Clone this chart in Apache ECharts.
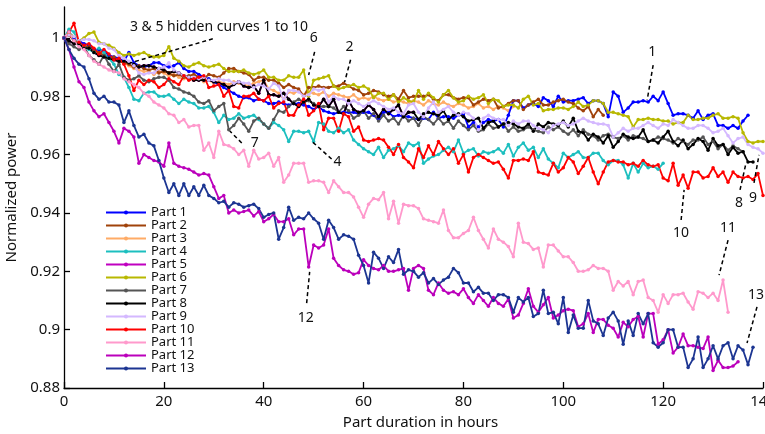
<!DOCTYPE html>
<html>
<head>
<meta charset="utf-8">
<script src="https://cdn.jsdelivr.net/npm/echarts@6/dist/echarts.min.js"></script>
<style>
  html, body { margin: 0; padding: 0; background: #fff; }
  #chart { width: 765px; height: 434px; }
</style>
</head>
<body>
<div id="chart"></div>
<script>
// Normalized power per part, one value per hour of operation (index = hour)
const part1 = [1.000,1.002,1.000,0.999,0.998,0.9975,0.996,0.996,0.9955,0.994,
  0.9935,0.993,0.992,0.995,0.9915,0.9905,0.990,0.9905,0.9915,0.9915,
  0.9905,0.990,0.9905,0.9915,0.9895,0.9885,0.9885,0.9875,0.9865,0.986,
  0.985,0.984,0.983,0.982,0.981,0.980,0.9795,0.9795,0.9785,0.979,
  0.9785,0.9775,0.9775,0.978,0.9775,0.977,0.9775,0.9775,0.977,0.9765,
  0.9755,0.9765,0.975,0.9745,0.974,0.9745,0.9745,0.9745,0.9745,0.974,
  0.9745,0.9745,0.9735,0.972,0.9745,0.9745,0.973,0.9735,0.973,0.973,
  0.9725,0.972,0.9725,0.972,0.9745,0.9725,0.973,0.973,0.9725,0.9735,
  0.974,0.9695,0.971,0.9695,0.971,0.972,0.9715,0.972,0.9695,0.9735,
  0.9785,0.9785,0.976,0.977,0.9775,0.9765,0.9795,0.9785,0.9765,0.980,
  0.978,0.9785,0.9785,0.979,0.9795,0.9775,0.9785,0.9785,0.9775,0.973,
  0.9815,0.980,0.9745,0.976,0.978,0.978,0.9785,0.978,0.980,0.9785,
  0.9815,0.9775,0.9735,0.974,0.974,0.9735,0.9725,0.975,0.972,0.9735,
  0.974,0.970,0.970,0.969,0.970,0.969,0.9715,0.9735];

const part2 = [1.000,1.001,0.999,0.998,0.997,0.997,0.9955,0.995,0.994,0.993,
  0.9935,0.992,0.9915,0.991,0.990,0.9905,0.9895,0.989,0.9895,0.988,
  0.9885,0.988,0.987,0.9875,0.9865,0.987,0.9875,0.9865,0.986,0.9875,
  0.987,0.9865,0.988,0.9895,0.9895,0.9885,0.988,0.9875,0.9855,0.9865,
  0.9865,0.9855,0.9855,0.9845,0.983,0.984,0.983,0.9825,0.980,0.983,
  0.983,0.9835,0.983,0.983,0.9835,0.9835,0.9845,0.9835,0.9825,0.982,
  0.9805,0.981,0.982,0.9815,0.9805,0.980,0.9805,0.979,0.982,0.9795,
  0.980,0.980,0.980,0.9805,0.979,0.9785,0.9805,0.9805,0.9795,0.979,
  0.9795,0.9795,0.977,0.978,0.979,0.9785,0.979,0.976,0.9765,0.9775,
  0.9785,0.9785,0.9755,0.977,0.978,0.979,0.977,0.977,0.978,0.9785,
  0.979,0.978,0.9775,0.976,0.975,0.9765,0.973,0.9755,0.9735];

const part3 = [1.000,1.001,0.9995,0.9985,0.998,0.997,0.996,0.9955,0.9945,0.994,
  0.993,0.9925,0.9915,0.9905,0.9895,0.989,0.9885,0.9885,0.9875,0.9885,
  0.988,0.987,0.9875,0.9865,0.986,0.9865,0.9855,0.986,0.985,0.9855,
  0.9845,0.985,0.9845,0.984,0.985,0.9845,0.984,0.9835,0.9845,0.985,
  0.9855,0.9825,0.982,0.981,0.979,0.9815,0.981,0.982,0.9805,0.9815,
  0.981,0.9805,0.9815,0.980,0.981,0.9805,0.980,0.9795,0.9805,0.979,
  0.9795,0.979,0.980,0.979,0.9785,0.979,0.978,0.9785,0.978,0.9775,
  0.9785,0.978,0.977,0.9785,0.9775,0.977,0.978,0.977,0.9765,0.9775,
  0.977,0.976,0.9765,0.9775,0.976,0.9765,0.9755,0.9765,0.976,0.975,
  0.9765];

const part4 = [1.000,1.003,1.002,0.998,0.997,0.996,0.995,0.9965,0.995,0.993,
  0.991,0.9875,0.9865,0.983,0.979,0.9785,0.981,0.9815,0.9815,0.980,
  0.980,0.9805,0.979,0.9775,0.979,0.978,0.9775,0.976,0.976,0.9765,
  0.9745,0.971,0.9735,0.972,0.9725,0.974,0.9725,0.973,0.9735,0.972,
  0.9705,0.969,0.971,0.970,0.9685,0.9645,0.968,0.968,0.9675,0.968,
  0.9645,0.971,0.9705,0.968,0.9675,0.969,0.9675,0.9685,0.965,0.9635,
  0.962,0.961,0.960,0.9625,0.959,0.9615,0.962,0.963,0.961,0.964,
  0.963,0.964,0.957,0.9585,0.9595,0.960,0.9615,0.9625,0.961,0.965,
  0.9605,0.9615,0.962,0.9595,0.961,0.9605,0.961,0.962,0.9605,0.9635,
  0.9595,0.9625,0.964,0.9615,0.9625,0.959,0.962,0.9585,0.957,0.9555,
  0.9605,0.959,0.960,0.961,0.959,0.959,0.9605,0.9605,0.958,0.9565,
  0.958,0.958,0.9565,0.952,0.957,0.954,0.957,0.9555,0.956,0.955,
  0.957];

const part5 = [1.000,0.999,0.998,0.998,0.9965,0.9965,0.995,0.994,0.9935,0.993,
  0.9925,0.992,0.992,0.9915,0.991,0.990,0.9905,0.9905,0.990,0.9895,
  0.989,0.988,0.9885,0.988,0.987,0.9865,0.9855,0.9855,0.9855,0.9855,
  0.985,0.9845,0.984,0.983,0.984,0.985,0.9835,0.983,0.9835,0.981,
  0.9855,0.9805,0.9805,0.980,0.981,0.979,0.9775,0.9765,0.978,0.979,
  0.977,0.9765,0.979,0.9765,0.979,0.9745,0.974,0.9785,0.9755,0.9745,
  0.975,0.977,0.9755,0.973,0.9755,0.974,0.9755,0.977,0.973,0.9745,
  0.9745];

const part6 = [1.000,1.0015,1.0005,0.999,1.000,1.0015,1.002,0.9985,0.998,0.9975,
  0.9965,0.995,0.994,0.9945,0.994,0.9945,0.995,0.994,0.9935,0.9935,
  0.994,0.997,0.993,0.992,0.9905,0.990,0.991,0.9915,0.9905,0.990,
  0.9905,0.991,0.9895,0.9885,0.9885,0.9885,0.989,0.988,0.9875,0.988,
  0.989,0.9865,0.9865,0.9855,0.9855,0.987,0.9865,0.9865,0.989,0.980,
  0.9855,0.986,0.9865,0.987,0.9835,0.9825,0.983,0.9835,0.984,0.983,
  0.9835,0.9825,0.9795,0.981,0.981,0.979,0.9805,0.978,0.9795,0.9785,
  0.978,0.982,0.979,0.981,0.9795,0.978,0.9805,0.982,0.9795,0.978,
  0.9785,0.980,0.979,0.9795,0.9805,0.9775,0.979,0.9785,0.9765,0.977,
  0.977,0.976,0.979,0.980,0.977,0.9775,0.975,0.9755,0.9755,0.976,
  0.976,0.9755,0.9765,0.978,0.9765,0.977,0.9785,0.9785,0.9775,0.9745,
  0.9745,0.974,0.9735,0.973,0.9695,0.972,0.972,0.9725,0.972,0.972,
  0.9715,0.9715,0.9705,0.971,0.971,0.9735,0.972,0.972,0.9725,0.9725,
  0.9735,0.974,0.9725,0.9725,0.973,0.9725,0.9675,0.9645,0.964,0.9645,
  0.9645];

const part7 = [1.000,0.998,0.997,0.996,0.997,0.994,0.9925,0.991,0.994,0.991,
  0.9885,0.991,0.9865,0.9855,0.986,0.987,0.9855,0.985,0.986,0.9865,
  0.9865,0.9855,0.983,0.9825,0.9815,0.981,0.980,0.978,0.9775,0.9785,
  0.975,0.9765,0.9775,0.9685,0.970,0.9725,0.9705,0.968,0.9715,0.9725,
  0.9705,0.969,0.972,0.975,0.9745,0.9765,0.978,0.979,0.978,0.9785,
  0.9775,0.9765,0.9765,0.9765,0.976,0.9745,0.9765,0.975,0.9725,0.9735,
  0.975,0.9725,0.974,0.9715,0.9735,0.9715,0.9725,0.9705,0.9735,0.9715,
  0.9725,0.970,0.973,0.972,0.9705,0.9725,0.9705,0.9715,0.969,0.9715,
  0.970,0.9685,0.970,0.968,0.9685,0.9705,0.969,0.9695,0.9705,0.968,
  0.9695,0.968,0.9685,0.9695,0.9685,0.968,0.9675,0.9695,0.9685,0.9695,
  0.968,0.967,0.9685,0.9665,0.9685,0.967,0.9665,0.965,0.9665,0.967,
  0.966,0.9655,0.9665,0.965,0.9665,0.966,0.9655,0.9645,0.965,0.966,
  0.9655,0.965,0.964,0.9655,0.9645,0.9635,0.965,0.965,0.966,0.9635,
  0.9645,0.962,0.9635,0.9615,0.963,0.962,0.961];

const part8 = [1.000,0.999,0.998,0.998,0.9965,0.9965,0.995,0.994,0.9935,0.993,
  0.9925,0.992,0.992,0.9915,0.991,0.990,0.9905,0.9905,0.990,0.9895,
  0.989,0.988,0.9885,0.988,0.987,0.9865,0.9855,0.9855,0.9855,0.9855,
  0.985,0.9845,0.984,0.983,0.984,0.985,0.9835,0.983,0.9835,0.981,
  0.9855,0.9805,0.9805,0.980,0.981,0.979,0.9775,0.9765,0.978,0.979,
  0.977,0.9765,0.979,0.9765,0.979,0.9745,0.974,0.9785,0.9755,0.9745,
  0.975,0.977,0.9755,0.973,0.9755,0.974,0.9755,0.977,0.973,0.9745,
  0.9745,0.972,0.974,0.9745,0.974,0.9735,0.975,0.972,0.9735,0.974,
  0.973,0.9715,0.972,0.9725,0.969,0.971,0.9715,0.9695,0.9705,0.971,
  0.9705,0.9695,0.969,0.9705,0.968,0.9705,0.9695,0.971,0.9705,0.970,
  0.9715,0.9695,0.9725,0.968,0.9675,0.965,0.967,0.966,0.964,0.9665,
  0.9625,0.9645,0.967,0.966,0.9655,0.966,0.9685,0.9645,0.965,0.964,
  0.966,0.968,0.9645,0.963,0.965,0.962,0.9635,0.9655,0.9645,0.9615,
  0.9655,0.963,0.9635,0.960,0.9625,0.9605,0.961,0.9575,0.9575];

const part9 = [1.000,1.001,1.0005,0.999,0.9995,0.9995,0.999,0.998,0.998,0.9965,
  0.996,0.994,0.993,0.992,0.9905,0.988,0.9875,0.988,0.988,0.9895,
  0.990,0.9915,0.989,0.988,0.987,0.9865,0.9865,0.986,0.9865,0.9855,
  0.9855,0.986,0.9855,0.9855,0.9845,0.985,0.9845,0.9845,0.983,0.984,
  0.9835,0.9825,0.9845,0.9835,0.9785,0.982,0.982,0.9815,0.980,0.9805,
  0.9825,0.982,0.9825,0.978,0.980,0.979,0.979,0.9775,0.9785,0.9775,
  0.9765,0.9775,0.9785,0.9775,0.9765,0.9755,0.976,0.9745,0.974,0.977,
  0.9775,0.9745,0.973,0.976,0.978,0.9745,0.9755,0.9765,0.9745,0.9735,
  0.9745,0.974,0.9725,0.9685,0.9725,0.9735,0.9725,0.972,0.972,0.970,
  0.9715,0.9705,0.9715,0.9715,0.970,0.969,0.9685,0.9675,0.970,0.9705,
  0.971,0.970,0.9705,0.9715,0.9725,0.9715,0.971,0.9705,0.9705,0.970,
  0.966,0.9675,0.969,0.968,0.969,0.969,0.970,0.971,0.970,0.969,
  0.9705,0.970,0.972,0.971,0.970,0.969,0.969,0.970,0.970,0.969,
  0.9675,0.968,0.969,0.9665,0.964,0.9655,0.966,0.9635,0.9625,0.962,
  0.9605];

const part10 = [1.000,1.002,1.005,0.9985,0.9975,0.998,0.9965,0.9945,0.996,0.9945,
  0.9925,0.993,0.991,0.987,0.982,0.9855,0.984,0.9855,0.985,0.983,
  0.984,0.986,0.985,0.984,0.987,0.9855,0.986,0.9865,0.987,0.983,
  0.9835,0.984,0.980,0.982,0.9765,0.976,0.980,0.980,0.981,0.979,
  0.9785,0.980,0.976,0.9775,0.978,0.9735,0.9735,0.977,0.979,0.9735,
  0.975,0.9775,0.9685,0.9725,0.9725,0.968,0.974,0.973,0.968,0.9695,
  0.965,0.9645,0.965,0.9655,0.965,0.9625,0.960,0.9635,0.959,0.9575,
  0.9555,0.962,0.959,0.963,0.960,0.9645,0.962,0.960,0.962,0.957,
  0.960,0.954,0.959,0.960,0.959,0.958,0.957,0.9575,0.955,0.952,
  0.958,0.958,0.9585,0.958,0.961,0.954,0.9535,0.953,0.957,0.954,
  0.9555,0.959,0.9575,0.9535,0.956,0.959,0.954,0.950,0.954,0.9575,
  0.958,0.9575,0.9575,0.9565,0.957,0.956,0.958,0.9565,0.956,0.9565,
  0.952,0.951,0.957,0.9495,0.953,0.9485,0.954,0.954,0.952,0.9525,
  0.9555,0.9525,0.954,0.9505,0.954,0.9525,0.952,0.9525,0.9515,0.9535,
  0.946];

const part11 = [1.000,1.002,0.999,0.997,0.996,0.994,0.992,0.991,0.990,0.989,
  0.9885,0.988,0.986,0.985,0.984,0.983,0.981,0.980,0.978,0.977,
  0.976,0.974,0.9735,0.971,0.972,0.9695,0.970,0.970,0.9615,0.964,
  0.959,0.968,0.9635,0.963,0.962,0.960,0.9615,0.956,0.9615,0.9585,
  0.959,0.9605,0.956,0.959,0.9505,0.953,0.957,0.957,0.957,0.9505,
  0.951,0.951,0.9505,0.947,0.951,0.949,0.947,0.947,0.9455,0.942,
  0.9385,0.943,0.945,0.9445,0.947,0.938,0.944,0.9365,0.943,0.9425,
  0.9425,0.9415,0.938,0.9375,0.937,0.9365,0.941,0.934,0.9315,0.9315,
  0.933,0.934,0.9385,0.934,0.931,0.928,0.9345,0.931,0.930,0.9285,
  0.925,0.9365,0.930,0.9295,0.9275,0.928,0.9215,0.929,0.929,0.927,
  0.925,0.925,0.923,0.920,0.920,0.9205,0.922,0.921,0.921,0.920,
  0.9135,0.9165,0.915,0.9165,0.912,0.9165,0.917,0.911,0.910,0.906,
  0.912,0.909,0.912,0.912,0.9125,0.9095,0.907,0.913,0.9125,0.911,
  0.9125,0.910,0.917,0.906];

const part12 = [1.000,0.996,0.990,0.985,0.983,0.978,0.975,0.973,0.974,0.971,
  0.968,0.964,0.969,0.968,0.966,0.957,0.960,0.959,0.958,0.9575,
  0.956,0.964,0.957,0.956,0.9555,0.955,0.954,0.953,0.9535,0.953,
  0.949,0.945,0.946,0.940,0.941,0.940,0.9405,0.941,0.939,0.9405,
  0.937,0.938,0.9395,0.937,0.937,0.938,0.9325,0.9345,0.9345,0.9215,
  0.929,0.928,0.929,0.9345,0.9245,0.922,0.9205,0.920,0.919,0.9195,
  0.924,0.922,0.921,0.9205,0.922,0.920,0.920,0.9205,0.921,0.9135,
  0.921,0.922,0.921,0.9135,0.912,0.916,0.9135,0.9125,0.913,0.912,
  0.914,0.911,0.909,0.912,0.910,0.908,0.911,0.909,0.908,0.9105,
  0.904,0.905,0.909,0.914,0.908,0.906,0.9085,0.911,0.904,0.905,
  0.9065,0.907,0.9065,0.901,0.902,0.9055,0.899,0.9035,0.9035,0.9015,
  0.9005,0.8975,0.9025,0.901,0.9035,0.9045,0.8975,0.9055,0.9055,0.895,
  0.8965,0.900,0.892,0.894,0.8985,0.8945,0.8945,0.894,0.8935,0.8975,
  0.886,0.8895,0.887,0.887,0.8875,0.889];

const part13 = [1.000,0.996,0.993,0.991,0.990,0.986,0.981,0.979,0.980,0.978,
  0.978,0.977,0.971,0.975,0.970,0.966,0.967,0.964,0.963,0.958,
  0.952,0.947,0.950,0.946,0.950,0.946,0.949,0.946,0.9495,0.946,
  0.945,0.9435,0.944,0.942,0.9435,0.943,0.942,0.9425,0.943,0.9415,
  0.9385,0.9395,0.940,0.931,0.935,0.942,0.9375,0.9385,0.938,0.940,
  0.938,0.9365,0.931,0.9375,0.935,0.931,0.9325,0.932,0.931,0.9255,
  0.922,0.916,0.9265,0.9245,0.921,0.925,0.923,0.9275,0.919,0.9205,
  0.920,0.918,0.9195,0.916,0.9175,0.9155,0.917,0.918,0.921,0.9195,
  0.916,0.916,0.913,0.9145,0.9125,0.9125,0.910,0.912,0.912,0.911,
  0.906,0.911,0.9095,0.911,0.9045,0.9055,0.9135,0.9055,0.906,0.902,
  0.911,0.899,0.905,0.9005,0.9005,0.910,0.903,0.902,0.898,0.904,
  0.906,0.903,0.895,0.903,0.898,0.9055,0.902,0.9055,0.8955,0.894,
  0.8955,0.900,0.900,0.894,0.894,0.887,0.890,0.8975,0.887,0.890,
  0.8945,0.890,0.8945,0.8955,0.890,0.8945,0.893,0.888,0.894];

const partNames = ['Part 1','Part 2','Part 3','Part 4','Part 5','Part 6','Part 7',
  'Part 8','Part 9','Part 10','Part 11','Part 12','Part 13'];
const partValues = [part1, part2, part3, part4, part5, part6, part7,
  part8, part9, part10, part11, part12, part13];
const partColors = ['#0000ff','#a0420a','#ffab66','#1cbfbf','#c000c0','#b8b800','#555555',
  '#000000','#d4b8ff','#ff0000','#ff99cc','#bb00bb','#1c3592'];
// parts 3 and 5 lie underneath the other curves
const hiddenParts = ['Part 3', 'Part 5'];

const yTicks = [0.88, 0.90, 0.92, 0.94, 0.96, 0.98, 1.00];

// callouts: label position and leader line ends, in (hours, power) units
const callouts = [
  { text: '3 & 5 hidden curves 1 to 10', at: [13.2, 1.0038], align: 'left', from: [29.8, 0.9997], to: [13.2, 0.9914] },
  { text: '6', at: [50.0, 1.0000], from: [50.2, 0.9952], to: [49.0, 0.9873] },
  { text: '2', at: [57.2, 0.9969], from: [57.4, 0.9925], to: [56.2, 0.9849] },
  { text: '1', at: [117.8, 0.9952], from: [118.0, 0.9907], to: [116.8, 0.9787] },
  { text: '7', at: [38.2, 0.9640], from: [35.6, 0.9640], to: [33.2, 0.9681] },
  { text: '4', at: [54.8, 0.9575], from: [53.6, 0.9585], to: [49.8, 0.9643] },
  { text: '10', at: [123.6, 0.9331], from: [123.6, 0.9376], to: [124.2, 0.9479] },
  { text: '11', at: [133.0, 0.9349], from: [133.0, 0.9307], to: [131.2, 0.9187] },
  { text: '8', at: [135.2, 0.9434], from: [135.4, 0.9479], to: [136.6, 0.9571] },
  { text: '9', at: [138.0, 0.9451], from: [138.2, 0.9503], to: [139.2, 0.9599] },
  { text: '12', at: [48.4, 0.9040], from: [48.6, 0.9091], to: [49.2, 0.9198] },
  { text: '13', at: [138.6, 0.9119], from: [138.8, 0.9078], to: [136.8, 0.8954] }
];

const FONT = '"Noto Sans", "Open Sans", sans-serif';
const chart = echarts.init(document.getElementById('chart'), null, { renderer: 'canvas' });

const series = partNames.map((name, i) => ({
  name: name,
  type: 'line',
  data: partValues[i].map((v, h) => [h, v]),
  symbol: 'circle',
  symbolSize: 3.5,
  showSymbol: true,
  z: hiddenParts.includes(name) ? 1 : 2,
  lineStyle: { width: 1.8, color: partColors[i] },
  itemStyle: { color: partColors[i] },
  emphasis: { disabled: true },
  animation: false
}));

const option = {
  backgroundColor: '#ffffff',
  animation: false,
  grid: { left: 64, right: 2, top: 7, bottom: 46, containLabel: false, outerBoundsMode: 'none' },
  legend: {
    orient: 'vertical',
    left: 105,
    top: 206,
    padding: 0,
    itemGap: 0,
    itemWidth: 40,
    itemHeight: 5,
    data: partNames,
    textStyle: { fontFamily: FONT, fontSize: 13, color: '#111', lineHeight: 13 }
  },
  xAxis: {
    type: 'value',
    min: 0,
    max: 140,
    interval: 20,
    name: 'Part duration in hours',
    nameLocation: 'middle',
    nameGap: 27,
    nameTextStyle: { fontFamily: FONT, fontSize: 15, color: '#111', padding: [0, 0, 0, 14] },
    axisLine: { lineStyle: { color: '#000', width: 1.3 } },
    axisTick: { inside: true, length: 6, lineStyle: { color: '#000', width: 1.3 } },
    axisLabel: { fontFamily: FONT, fontSize: 15, color: '#111', margin: 6, hideOverlap: false },
    splitLine: { show: false }
  },
  yAxis: {
    type: 'value',
    min: 0.88,
    max: 1.0106,
    interval: 0.02,
    name: 'Normalized power',
    nameLocation: 'middle',
    nameGap: 44,
    nameTextStyle: { fontFamily: FONT, fontSize: 15, color: '#111' },
    axisLine: { show: true, lineStyle: { color: '#000', width: 1.3 } },
    axisTick: { show: true, inside: true, length: 6, customValues: yTicks, lineStyle: { color: '#000', width: 1.3 } },
    axisLabel: {
      fontFamily: FONT, fontSize: 15, color: '#111', margin: 4,
      customValues: yTicks,
      formatter: v => String(Number(v.toFixed(2)))
    },
    splitLine: { show: false }
  },
  series: series
};

chart.setOption(option);

// callout labels and dashed leader lines, placed through the grid's scales
const elements = [];
callouts.forEach(c => {
  const p = chart.convertToPixel({ gridIndex: 0 }, c.at);
  const a = chart.convertToPixel({ gridIndex: 0 }, c.from);
  const b = chart.convertToPixel({ gridIndex: 0 }, c.to);
  elements.push({
    type: 'line',
    z: 100,
    shape: { x1: a[0], y1: a[1], x2: b[0], y2: b[1] },
    style: { stroke: '#000', lineWidth: 1.5, lineDash: [4, 3] }
  });
  elements.push({
    type: 'text',
    z: 100,
    x: p[0], y: p[1],
    style: {
      text: c.text, fill: '#111', fontFamily: FONT, fontSize: 14,
      align: c.align || 'center', verticalAlign: 'middle'
    }
  });
});
chart.setOption({ graphic: elements });
</script>
</body>
</html>
